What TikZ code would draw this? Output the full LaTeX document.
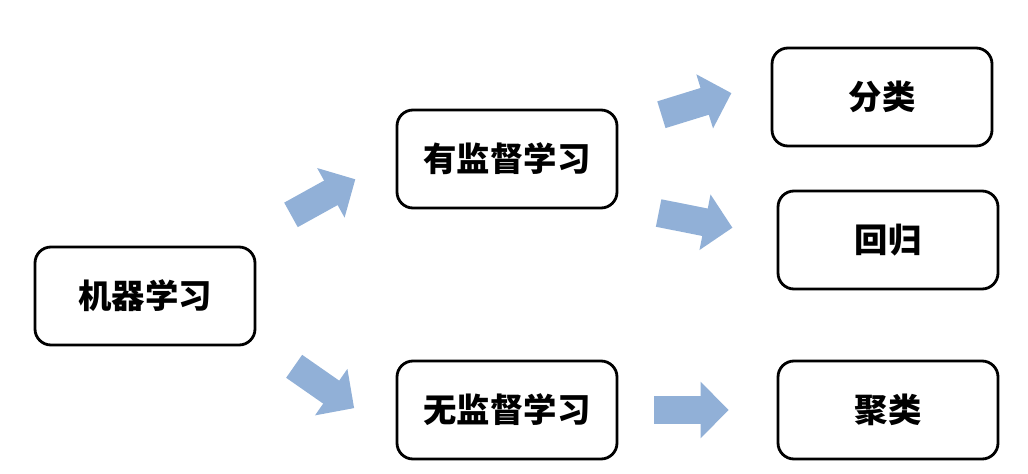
\documentclass[tikz,border=0pt]{standalone}
\usepackage{fontspec}
\newfontfamily\cjk{Noto Sans CJK SC}
\usetikzlibrary{arrows.meta}
\definecolor{arrowblue}{RGB}{145,176,215}
\begin{document}
\begin{tikzpicture}[
  box/.style={draw, line width=1.6pt, rounded corners=0.32cm, minimum width=4.4cm,
    minimum height=1.96cm, font=\cjk\bfseries\fontsize{19}{22}\selectfont},
  bigarrow/.style={draw=arrowblue, line width=0.56cm,
    -{Triangle[length=0.56cm, width=1.1cm, fill=arrowblue]}}
]
\useasboundingbox (0,0) rectangle (20.56,-9.46);

\node[box] (ml) at (2.90,-5.92) {机器学习};
\node[box] (sup) at (10.14,-3.18) {有监督学习};
\node[box] (unsup) at (10.14,-8.20) {无监督学习};
\node[box] (cls) at (17.64,-1.94) {分类};
\node[box] (reg) at (17.76,-4.80) {回归};
\node[box] (clu) at (17.76,-8.20) {聚类};

\draw[bigarrow, shorten <=0.79cm, shorten >=0.92cm] ([yshift=1.24cm]ml.east) -- ([yshift=0.04cm]sup.west);
\draw[bigarrow, shorten <=0.92cm, shorten >=1.01cm] ([yshift=-0.88cm]ml.east) -- ([yshift=-0.54cm]unsup.west);
\draw[bigarrow, shorten <=0.90cm, shorten >=0.82cm] ([yshift=0.62cm]sup.east) -- ([yshift=0.32cm]cls.west);
\draw[bigarrow, shorten <=0.82cm, shorten >=0.90cm] ([yshift=-0.92cm]sup.east) -- ([yshift=0.07cm]reg.west);
\draw[bigarrow, shorten <=0.72cm, shorten >=0.96cm] (unsup.east) -- (clu.west);
\end{tikzpicture}
\end{document}
